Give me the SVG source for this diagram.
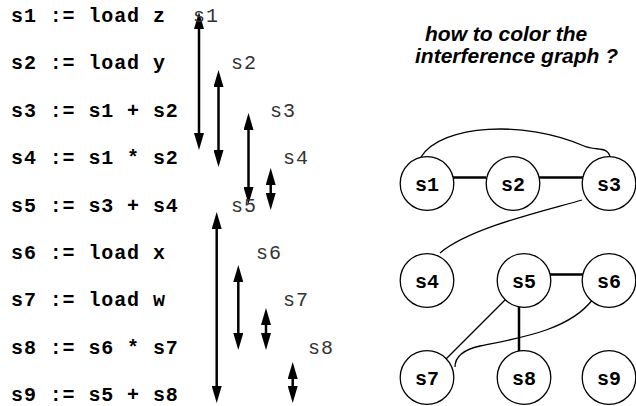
<svg xmlns="http://www.w3.org/2000/svg" width="636" height="406" viewBox="0 0 636 406">
<style>
.code{font-family:"Liberation Mono","Courier New",monospace;font-size:20px;font-weight:bold;letter-spacing:0.9px;fill:#000}
.lab{font-family:"Liberation Mono","Courier New",monospace;font-size:20px;letter-spacing:0.9px;fill:#333}
.title{font-family:"Liberation Sans",Arial,sans-serif;font-size:21px;font-weight:bold;font-style:italic;fill:#000}
.node circle{fill:#fff;stroke:#000;stroke-width:1.3}
.node text{font-family:"Liberation Mono","Courier New",monospace;font-size:20px;font-weight:bold;text-anchor:middle;fill:#000}
.live{stroke:#000;stroke-width:2.5;fill:none;marker-start:url(#ah);marker-end:url(#ah)}
.thick{stroke:#000;stroke-width:2.5;fill:none}
.thin{stroke:#000;stroke-width:1.3;fill:none}
</style>
<defs>
<marker id="ah" viewBox="0 0 17 10" markerWidth="17" markerHeight="10" markerUnits="userSpaceOnUse" refX="3" refY="5" orient="auto-start-reverse">
<path d="M0,0 L17,5 L0,10 z" fill="#000"/>
</marker>
</defs>
<g id="code">
<text class="code" x="11" y="22">s1 := load z</text>
<text class="code" x="11" y="69.4">s2 := load y</text>
<text class="code" x="11" y="116.8">s3 := s1 + s2</text>
<text class="code" x="11" y="164.2">s4 := s1 * s2</text>
<text class="code" x="11" y="211.6">s5 := s3 + s4</text>
<text class="code" x="11" y="259">s6 := load x</text>
<text class="code" x="11" y="306.4">s7 := load w</text>
<text class="code" x="11" y="353.8">s8 := s6 * s7</text>
<text class="code" x="11" y="401.2">s9 := s5 + s8</text>
</g>
<g id="live-ranges">
<line class="live" x1="199" y1="26" x2="199" y2="136"/>
<line class="live" x1="218.5" y1="84" x2="218.5" y2="153"/>
<line class="live" x1="248.5" y1="127" x2="248.5" y2="190"/>
<line class="live" x1="270.7" y1="182" x2="270.7" y2="196"/>
<line class="live" x1="216.7" y1="226" x2="216.7" y2="389"/>
<line class="live" x1="238.3" y1="279" x2="238.3" y2="336"/>
<line class="live" x1="266" y1="322" x2="266" y2="336"/>
<line class="live" x1="292.7" y1="376" x2="292.7" y2="389"/>
</g>
<g id="range-labels">
<text class="lab" x="193" y="22">s1</text>
<text class="lab" x="231" y="69.4">s2</text>
<text class="lab" x="270" y="116.8">s3</text>
<text class="lab" x="283" y="164.2">s4</text>
<text class="lab" x="231" y="211.6">s5</text>
<text class="lab" x="256" y="259">s6</text>
<text class="lab" x="283" y="306.4">s7</text>
<text class="lab" x="308" y="353.8">s8</text>
</g>
<g id="title">
<text class="title" x="425" y="41">how to color the</text>
<text class="title" x="415" y="63">interference graph ?</text>
</g>
<g id="edges">
<line class="thick" x1="453" y1="177.5" x2="486" y2="177.5"/>
<line class="thick" x1="539" y1="177.5" x2="583" y2="177.5"/>
<line class="thick" x1="550" y1="274.5" x2="583" y2="274.5"/>
<line class="thick" x1="519" y1="307" x2="519" y2="351"/>
<path class="thin" d="M421,157 C442,124 525,120 584,146 C596,151 608,146 610,157"/>
<path class="thin" d="M582,200 C540,212 470,228 440,253"/>
<line class="thin" x1="508" y1="297" x2="443" y2="362"/>
<path class="thin" d="M593,299 C570,330 520,338 480,346 C462,350 455,358 455,367"/>
</g>
<g id="s1" class="node"><circle cx="427" cy="183.5" r="26.8"/><text x="427" y="191">s1</text></g>
<g id="s2" class="node"><circle cx="513" cy="183.5" r="26.8"/><text x="513" y="191">s2</text></g>
<g id="s3" class="node"><circle cx="609" cy="183.5" r="26.8"/><text x="609" y="191">s3</text></g>
<g id="s4" class="node"><circle cx="427" cy="280.5" r="26.8"/><text x="427" y="288">s4</text></g>
<g id="s5" class="node"><circle cx="524" cy="280.5" r="26.8"/><text x="524" y="288">s5</text></g>
<g id="s6" class="node"><circle cx="609" cy="280.5" r="26.8"/><text x="609" y="288">s6</text></g>
<g id="s7" class="node"><circle cx="427" cy="377.5" r="26.8"/><text x="427" y="385">s7</text></g>
<g id="s8" class="node"><circle cx="524" cy="377.5" r="26.8"/><text x="524" y="385">s8</text></g>
<g id="s9" class="node"><circle cx="609" cy="377.5" r="26.8"/><text x="609" y="385">s9</text></g>
</svg>
